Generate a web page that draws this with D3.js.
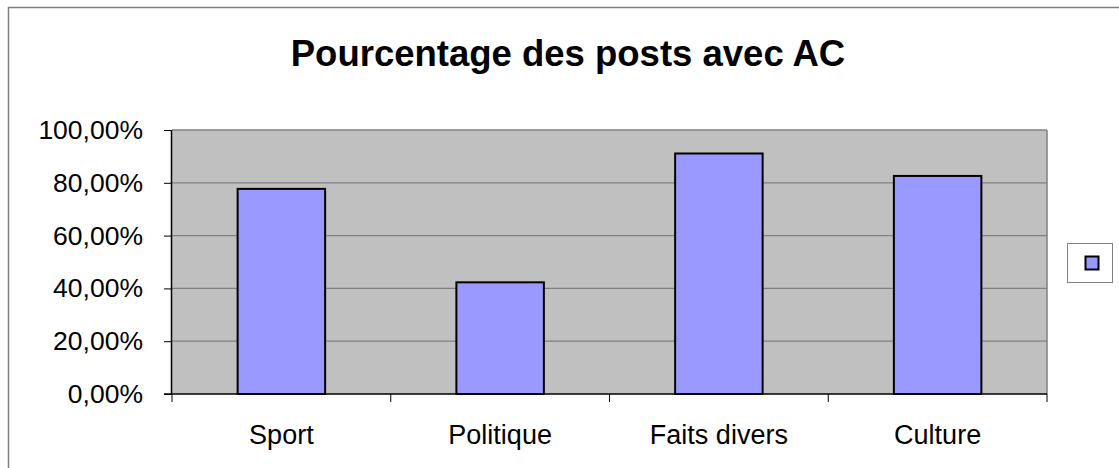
<!DOCTYPE html>
<meta charset="utf-8">
<style>
  body { margin: 0; background: #fff; }
  svg { font-family: "Liberation Sans", Arial, sans-serif; }
  .grid line { stroke: #808080; stroke-width: 1.3; }
</style>
<svg width="1119" height="468"></svg>
<script src="https://cdnjs.cloudflare.com/ajax/libs/d3/7.8.5/d3.min.js"></script>
<script>
var categories = ["Sport", "Politique", "Faits divers", "Culture"];
var values = [0.777, 0.423, 0.911, 0.826];
var yTicks = [0, 0.2, 0.4, 0.6, 0.8, 1.0];
var chartTitle = "Pourcentage des posts avec AC";

var svg = d3.select("svg");
var plotL = 172, plotR = 1047, plotT = 130, plotB = 394;

// outer chart frame
svg.append("rect").attr("x", 8.5).attr("y", 7.5).attr("width", 1120).attr("height", 470)
  .attr("fill", "none").attr("stroke", "#808080").attr("stroke-width", 1.5);

svg.append("text").attr("x", 568).attr("y", 66).attr("text-anchor", "middle")
  .attr("font-size", 36.5).attr("font-weight", "bold").text(chartTitle);

var x = d3.scaleBand().domain(categories).range([plotL, plotR]).paddingInner(0.6).paddingOuter(0.3);
var xb = d3.scaleBand().domain(categories).range([plotL, plotR]);
var y = d3.scaleLinear().domain([0, 1]).range([plotB, plotT]);

svg.append("rect").attr("x", plotL).attr("y", plotT).attr("width", plotR - plotL).attr("height", plotB - plotT)
  .attr("fill", "#c0c0c0");

svg.append("g").attr("class", "grid").selectAll("line").data(yTicks.slice(1)).enter().append("line")
  .attr("x1", plotL).attr("x2", plotR).attr("y1", function(d){ return y(d); }).attr("y2", function(d){ return y(d); });

// right border of plot area
svg.append("line").attr("x1", plotR).attr("x2", plotR).attr("y1", plotT).attr("y2", plotB)
  .attr("stroke", "#808080").attr("stroke-width", 1.5);

svg.append("g").selectAll("rect").data(values).enter().append("rect")
  .attr("x", function(d, i){ return x(categories[i]); })
  .attr("y", function(d){ return y(d); })
  .attr("width", x.bandwidth())
  .attr("height", function(d){ return plotB - y(d); })
  .attr("fill", "#9999ff").attr("stroke", "#000").attr("stroke-width", 2);

var fmt = function(d){ return d3.format(".2f")(d * 100).replace(".", ",") + "%"; };

var ya = svg.append("g").attr("transform", "translate(" + plotL + ",0)")
  .call(d3.axisLeft(y).tickValues(yTicks).tickFormat(fmt).tickSize(8).tickPadding(21));
ya.select(".domain").attr("stroke-width", 1.5).attr("d", "M-0.5," + plotB + "V" + plotT);
ya.selectAll("text").attr("font-size", 26.5).attr("fill", "#000").attr("font-family", "Liberation Sans, Arial, sans-serif");

var xa = svg.append("g").attr("transform", "translate(0," + plotB + ")")
  .call(d3.axisBottom(xb).tickSize(0).tickPadding(31));
xa.select(".domain").attr("stroke-width", 1.5).attr("d", "M" + (plotL - 8) + ",0H" + plotR);
xa.selectAll("text").attr("font-size", 27).attr("fill", "#000").attr("font-family", "Liberation Sans, Arial, sans-serif");

// category boundary ticks
svg.append("g").selectAll("line").data(d3.range(categories.length + 1)).enter().append("line")
  .attr("x1", function(i){ return plotL + i * xb.step(); })
  .attr("x2", function(i){ return plotL + i * xb.step(); })
  .attr("y1", plotB).attr("y2", plotB + 8).attr("stroke", "#000").attr("stroke-width", 1);

// legend
var lg = svg.append("g");
lg.append("rect").attr("x", 1067.5).attr("y", 243.5).attr("width", 45).attr("height", 39)
  .attr("fill", "#fff").attr("stroke", "#808080").attr("stroke-width", 1);
lg.append("rect").attr("x", 1085.5).attr("y", 256.5).attr("width", 13).attr("height", 13)
  .attr("fill", "#9999ff").attr("stroke", "#000").attr("stroke-width", 2);
</script>
